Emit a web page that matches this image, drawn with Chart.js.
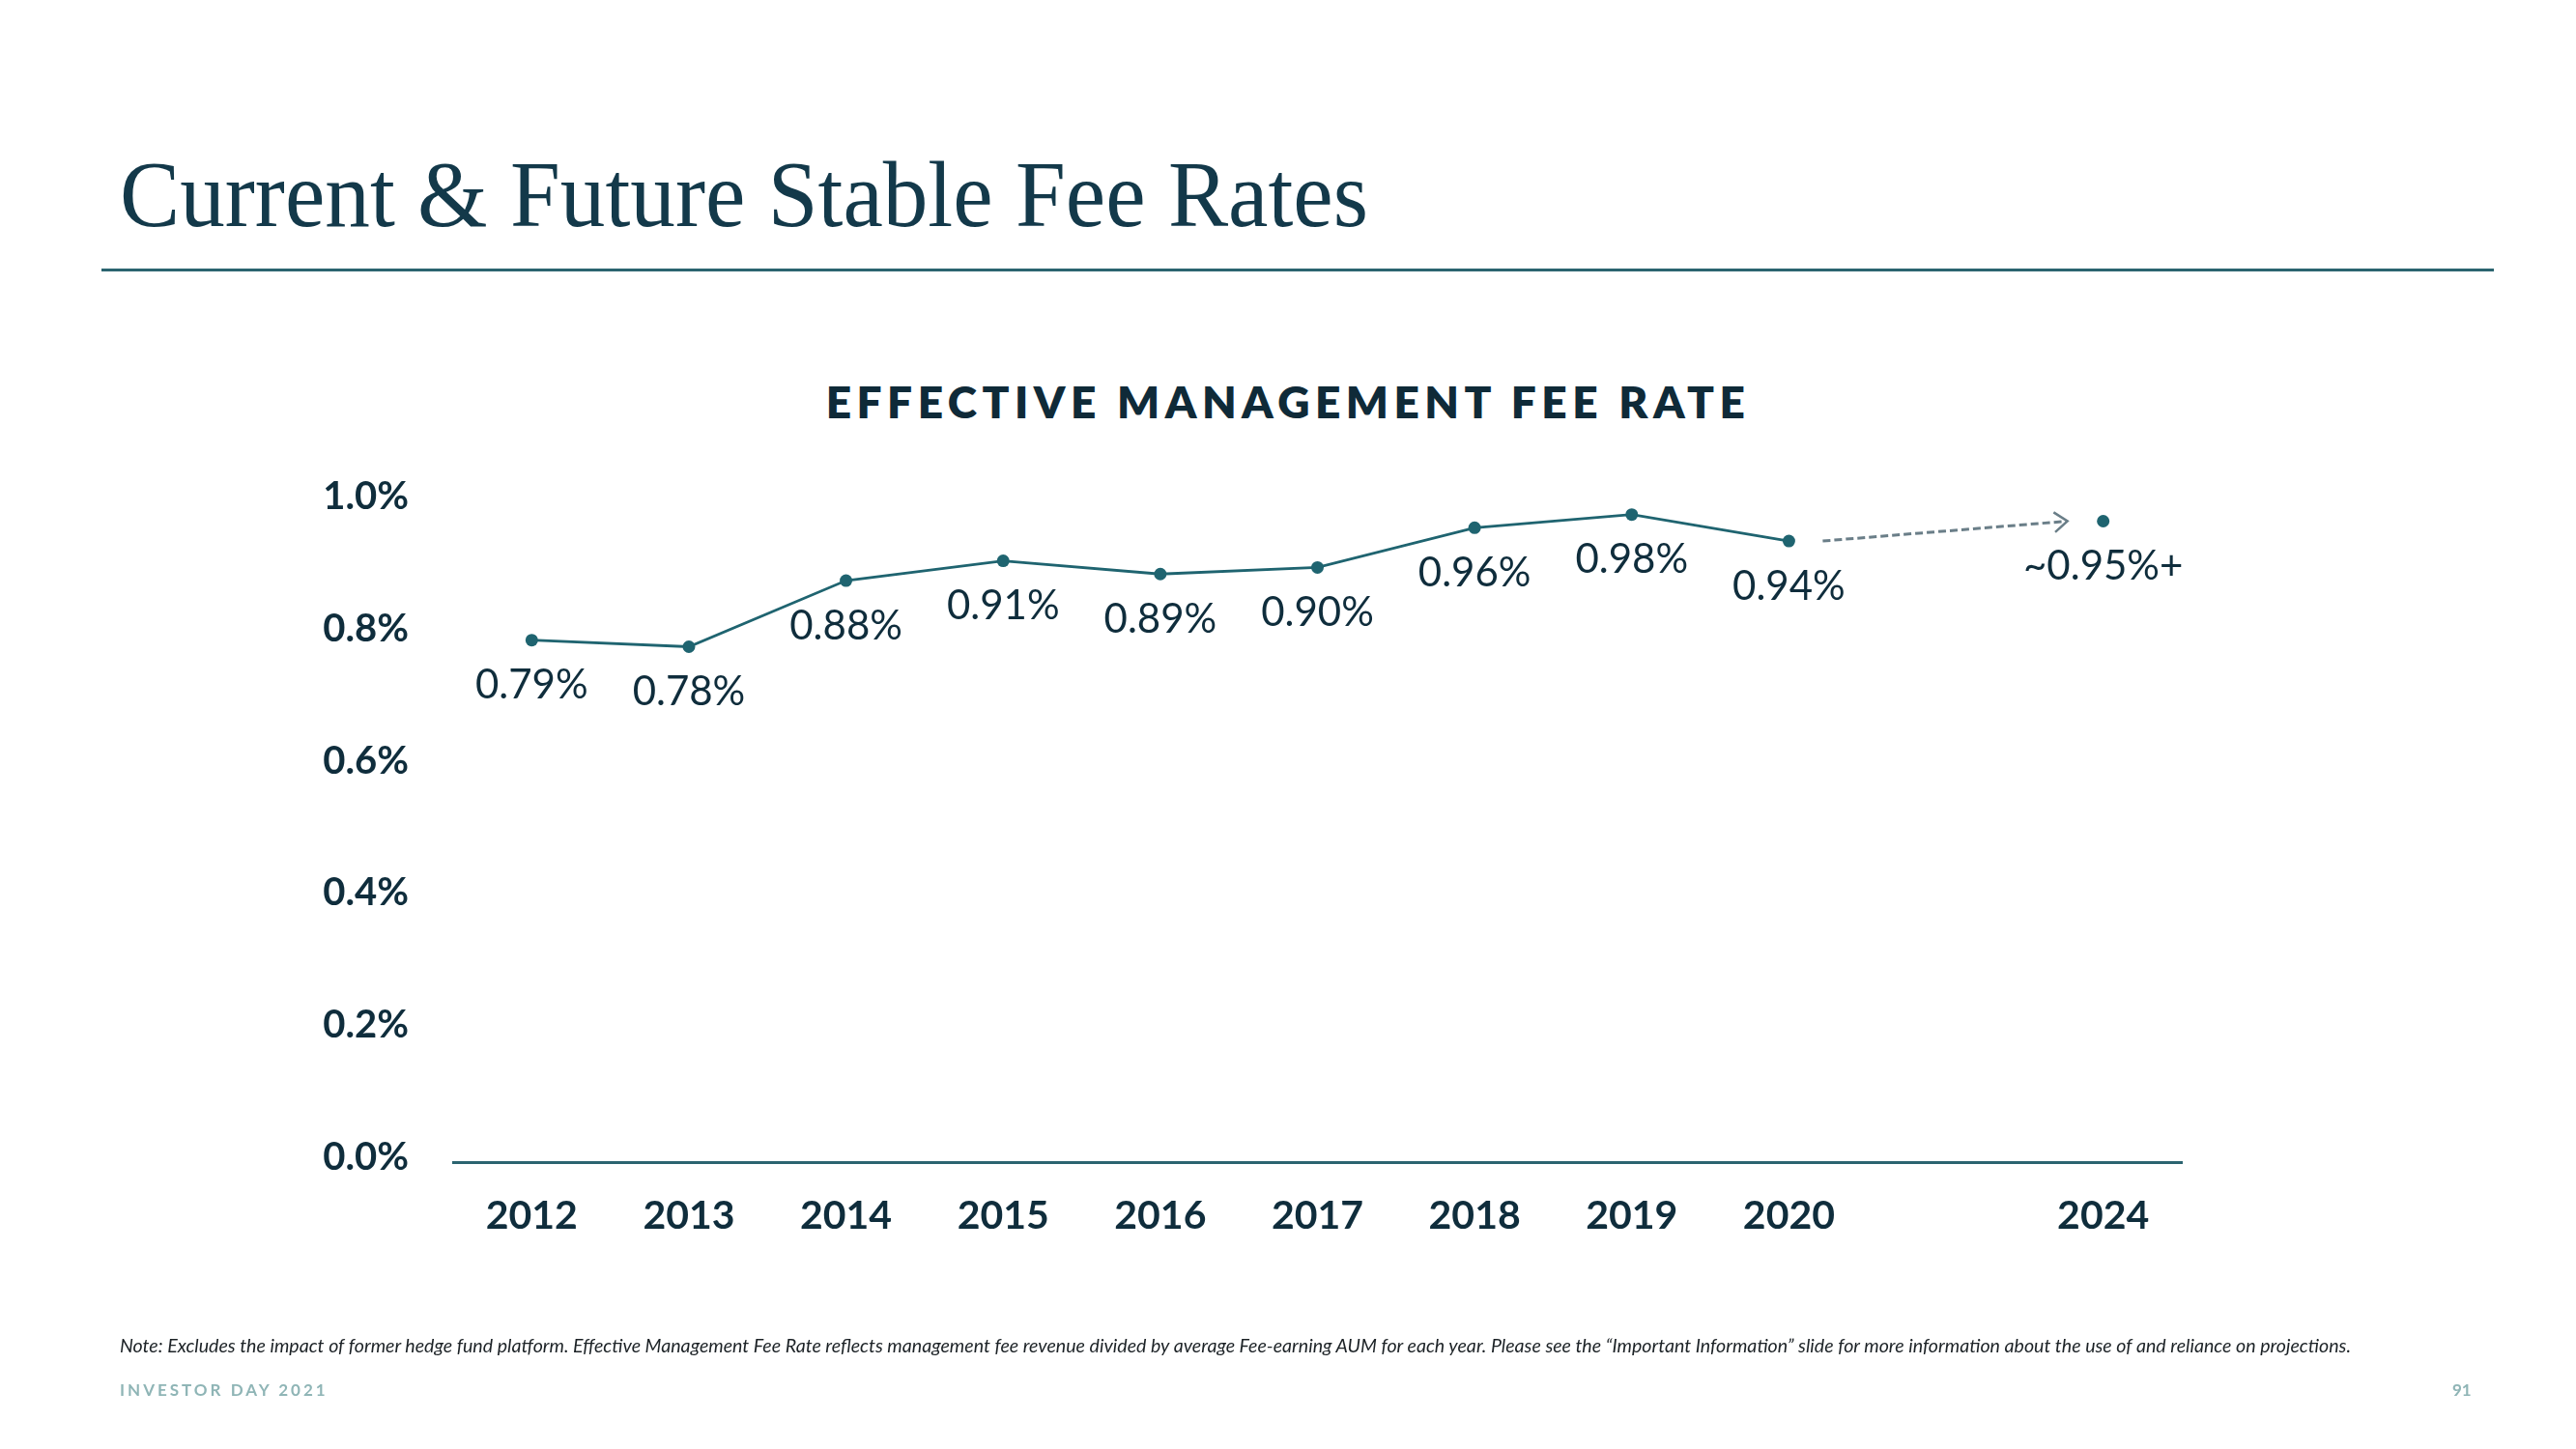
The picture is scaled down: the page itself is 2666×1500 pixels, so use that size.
<!DOCTYPE html>
<html><head><meta charset="utf-8">
<script src="https://cdn.jsdelivr.net/npm/chart.js@4.4.0/dist/chart.umd.min.js"></script>
<style>
html,body{margin:0;padding:0;background:#fff;}
body{width:2666px;height:1500px;position:relative;overflow:hidden;}
.abs{position:absolute;white-space:nowrap;line-height:1;}
#title{left:124px;top:153px;font-family:"Liberation Serif",serif;font-size:97px;color:#13394a;transform-origin:left center;}
#rule{left:105px;top:278px;width:2476px;height:3px;background:#2b6470;}
#ctitle{left:0;top:393px;width:2666px;text-align:center;font-family:Lato,sans-serif;font-weight:800;font-size:46px;letter-spacing:5.5px;color:#0f2a38;}
#note{left:124px;top:1383px;font-family:Lato,sans-serif;font-style:italic;font-size:19px;color:#1c2226;transform-origin:left center;}
#footer{left:124px;top:1430px;font-family:Lato,sans-serif;font-weight:700;font-size:17px;letter-spacing:3px;color:#8fb5b6;}
#page{left:2538px;top:1430px;font-family:Lato,sans-serif;font-weight:700;font-size:17px;color:#8fb5b6;}
#c{position:absolute;left:0;top:0;}
</style></head>
<body>
<div id="title" class="abs">Current &amp; Future Stable Fee Rates</div>
<div id="rule" class="abs"></div>
<div id="ctitle" class="abs">EFFECTIVE MANAGEMENT FEE RATE</div>
<canvas id="c" width="2666" height="1500"></canvas>
<div id="note" class="abs">Note: Excludes the impact of former hedge fund platform. Effective Management Fee Rate reflects management fee revenue divided by average Fee-earning AUM for each year. Please see the “Important Information” slide for more information about the use of and reliance on projections.</div>
<div id="footer" class="abs">INVESTOR DAY 2021</div>
<div id="page" class="abs">91</div>
<script>
// ---- data ----
const categories = ['2012','2013','2014','2015','2016','2017','2018','2019','2020','','2024'];
const feeRates   = [0.79, 0.78, 0.88, 0.91, 0.89, 0.90, 0.96, 0.98, 0.94, null, 0.97];
const pointLabels = ['0.79%','0.78%','0.88%','0.91%','0.89%','0.90%','0.96%','0.98%','0.94%','','~0.95%+'];
const yTickLabels = ['0.0%','0.2%','0.4%','0.6%','0.8%','1.0%'];
const arrowFrom = '2020';
const arrowTo = '2024';

function fitWidth(id, target){
  const el = document.getElementById(id);
  const w = el.getBoundingClientRect().width;
  el.style.transform = 'scaleX(' + (target / w) + ')';
}
fitWidth('title', 1292);
fitWidth('note', 2309);

const TEAL = '#1f6470';
const NAVY = '#0f2d3c';

const labelPlugin = {
  id: 'pointLabels',
  afterDatasetsDraw(chart){
    const ctx = chart.ctx;
    const meta = chart.getDatasetMeta(0);
    ctx.save();
    ctx.font = '400 42px Lato';
    ctx.fillStyle = NAVY;
    ctx.textAlign = 'center';
    ctx.textBaseline = 'middle';
    meta.data.forEach((pt, i) => {
      if (feeRates[i] === null || !pointLabels[i]) return;
      ctx.fillText(pointLabels[i], pt.x, pt.y + 47);
    });
    // dashed arrow from 2020 to 2024
    const a = meta.data[categories.indexOf(arrowFrom)];
    const b = meta.data[categories.indexOf(arrowTo)];
    const x1 = a.x + 35, y1 = a.y, x2 = b.x - 37, y2 = b.y;
    ctx.strokeStyle = '#6a7e88';
    ctx.lineWidth = 3;
    ctx.setLineDash([8, 4]);
    ctx.beginPath(); ctx.moveTo(x1, y1); ctx.lineTo(x2, y2); ctx.stroke();
    ctx.setLineDash([]);
    const ang = Math.atan2(y2 - y1, x2 - x1);
    const L = 17, sp = 0.65;
    ctx.lineWidth = 2.5;
    ctx.beginPath();
    ctx.moveTo(x2 - L*Math.cos(ang - sp), y2 - L*Math.sin(ang - sp));
    ctx.lineTo(x2, y2);
    ctx.lineTo(x2 - L*Math.cos(ang + sp), y2 - L*Math.sin(ang + sp));
    ctx.stroke();
    ctx.restore();
  }
};

new Chart(document.getElementById('c'), {
  type: 'line',
  data: {
    labels: categories,
    datasets: [{
      data: feeRates,
      borderColor: TEAL,
      backgroundColor: TEAL,
      borderWidth: 2.8,
      pointRadius: 6.5,
      pointBackgroundColor: TEAL,
      pointBorderWidth: 0,
      spanGaps: false,
      tension: 0
    }]
  },
  options: {
    responsive: false,
    devicePixelRatio: 1,
    animation: false,
    layout: { padding: { left: 300, right: 408, top: 519, bottom: 197 } },
    plugins: { legend: { display: false }, tooltip: { enabled: false } },
    scales: {
      x: {
        type: 'category',
        offset: true,
        grid: { display: false, drawTicks: false },
        border: { display: true, color: '#2b6470', width: 3 },
        ticks: { color: NAVY, font: { family: 'Lato', size: 41, weight: 700 }, padding: 31, maxRotation: 0, autoSkip: false },
        afterFit(s){ s.height = 100; }
      },
      y: {
        min: 0, max: 1.0,
        grid: { display: false, drawTicks: false },
        border: { display: false },
        ticks: {
          stepSize: 0.2,
          color: NAVY,
          font: { family: 'Lato', size: 40, weight: 700 },
          padding: 46,
          labelOffset: -5,
          callback: (v, i) => yTickLabels[i]
        },
        afterFit(s){ s.width = 169; }
      }
    }
  },
  plugins: [labelPlugin]
});
</script>
</body></html>
